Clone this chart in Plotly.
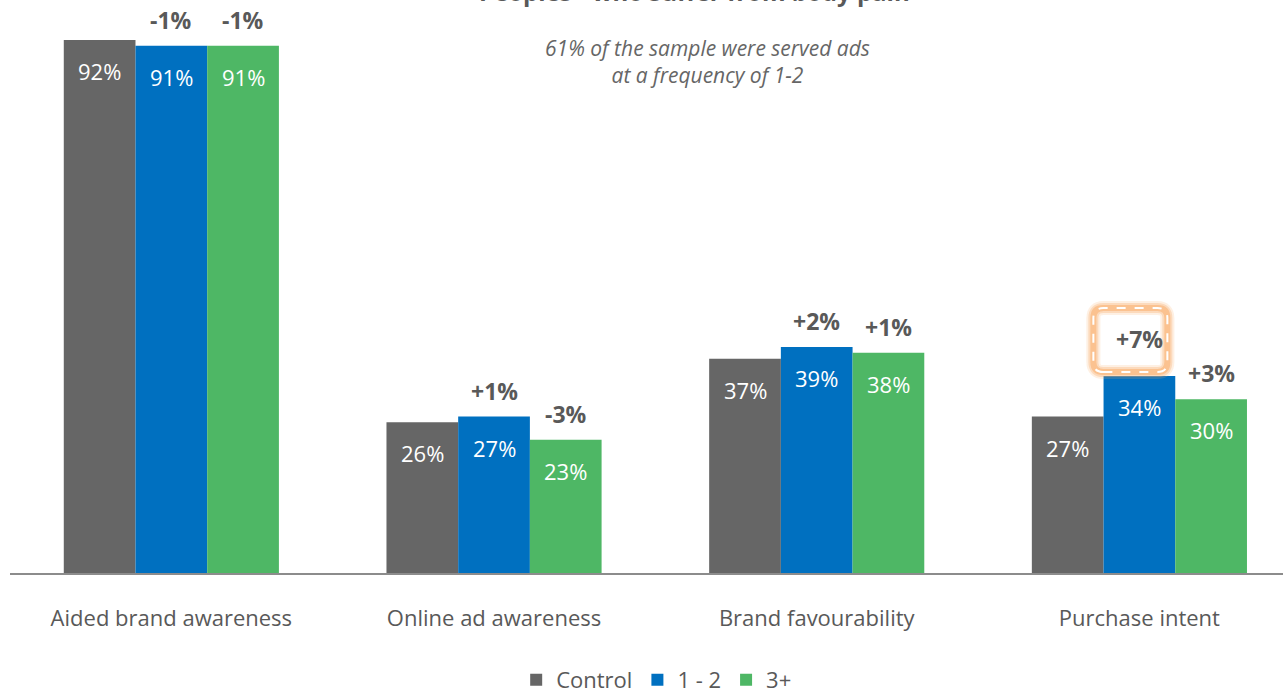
import plotly.graph_objects as go

categories = ["Aided brand awareness", "Online ad awareness", "Brand favourability", "Purchase intent"]
series_names = ["Control", "1 - 2", "3+"]
control = [92, 26, 37, 27]
freq_1_2 = [91, 27, 39, 34]
freq_3p = [91, 23, 38, 30]
delta_1_2 = ["-1%", "+1%", "+2%", "+7%"]
delta_3p = ["-1%", "-3%", "+1%", "+3%"]
highlight_index = 3  # the +7% label sits inside a highlight box
colors = ["#666666", "#0070C0", "#4EB765"]

FONT = "Open Sans"
fig = go.Figure()
all_series = [control, freq_1_2, freq_3p]
for name, vals, col in zip(series_names, all_series, colors):
    fig.add_trace(go.Bar(name=name, x=categories, y=vals, marker=dict(color=col, line=dict(width=0)),
                         hoverinfo="skip"))

ann = []
offsets = [-1, 0, 1]
bar_w = (1 - 1 / 3) / 3
for si, vals in enumerate(all_series):
    for ci, v in enumerate(vals):
        xpos = ci + offsets[si] * bar_w
        ann.append(dict(x=xpos, y=v, xref="x", yref="y", text=f"{v}%", showarrow=False,
                        yshift=-31, font=dict(family=FONT, size=22, color="white")))
for deltas, si in ((delta_1_2, 1), (delta_3p, 2)):
    for ci, d in enumerate(deltas):
        v = all_series[si][ci]
        xpos = ci + offsets[si] * bar_w
        ys = 37 if (si == 1 and ci == highlight_index) else 26
        ann.append(dict(x=xpos, y=v, xref="x", yref="y", text=f"<b>{d}</b>", showarrow=False,
                        yshift=ys, font=dict(family=FONT, size=23, color="#595959")))

ann.append(dict(x=0.538, y=1 - 10 / 573, xref="paper", yref="paper", yanchor="bottom",
                text="<b>Peoples - who suffer from body pain</b>", showarrow=False,
                font=dict(family=FONT, size=24, color="#595959")))
ann.append(dict(x=1.662, y=88.2, xref="x", yref="y",
                text="<i>61% of the sample were served ads<br>at a frequency of 1-2</i>",
                showarrow=False, font=dict(family=FONT, size=21, color="#666666")))

# highlight box around +7%
w, h, r = 37, 32, 10
path = (f"M {-w+r},{-h} L {w-r},{-h} Q {w},{-h} {w},{-h+r} L {w},{h-r} Q {w},{h} {w-r},{h} "
        f"L {-w+r},{h} Q {-w},{h} {-w},{h-r} L {-w},{-h+r} Q {-w},{-h} {-w+r},{-h} Z")
shapes = []
hx = highlight_index - 0.028
hy = freq_1_2[highlight_index] + 6.2
for lw, op in ((14, 0.18), (10, 0.3), (6, 0.5)):
    shapes.append(dict(type="path", path=path, xref="x", yref="y", xsizemode="pixel", ysizemode="pixel",
                       xanchor=hx, yanchor=hy, line=dict(color=f"rgba(250,170,100,{op})", width=lw)))
shapes.append(dict(type="path", path=path, xref="x", yref="y", xsizemode="pixel", ysizemode="pixel",
                   xanchor=hx, yanchor=hy, line=dict(color="white", width=2, dash="dash")))

fig.update_layout(
    width=1283, height=695,
    margin=dict(l=10, r=0, t=0, b=122),
    paper_bgcolor="white", plot_bgcolor="white",
    barmode="group", bargap=1 / 3, bargroupgap=0,
    font=dict(family=FONT, color="#595959"),
    xaxis=dict(range=[-0.5, 3.445], showgrid=False, showline=True, linecolor="#8C8C8C", linewidth=2,
               ticks="", tickfont=dict(family=FONT, size=22, color="#595959"), ticklabelstandoff=25,
               automargin=False),
    yaxis=dict(range=[0, 98.9], visible=False, automargin=False),
    legend=dict(orientation="h", x=0.508, xanchor="center", yref="container", y=15 / 695, yanchor="middle",
                font=dict(family=FONT, size=22, color="#595959"), itemwidth=30, traceorder="normal"),
    annotations=ann, shapes=shapes,
)
fig.write_html("out.html")
